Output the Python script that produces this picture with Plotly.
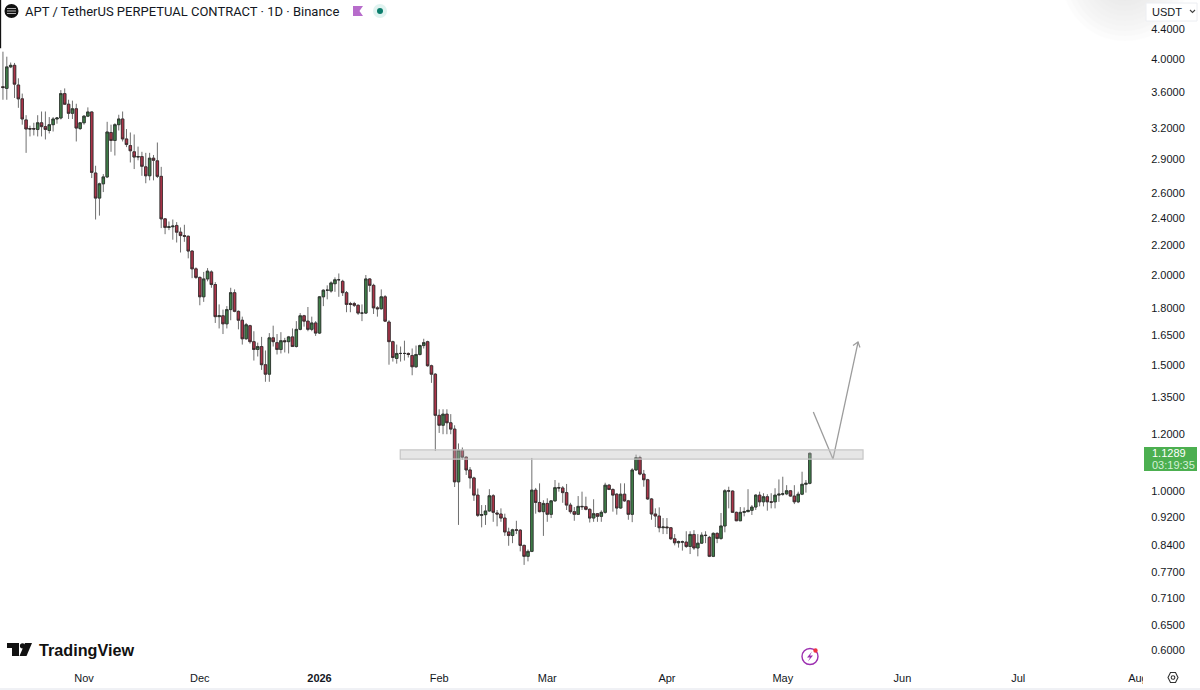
import pandas as pd
import plotly.graph_objects as go

dates = list(pd.date_range("2025-10-11", periods=210))

opens = [
    3.66, 3.64, 3.90, 3.92, 3.68, 3.52, 3.29, 3.20, 3.20, 3.19,
    3.26, 3.22, 3.18, 3.24, 3.30, 3.31, 3.58, 3.46, 3.36, 3.41,
    3.20, 3.26, 3.33, 3.375, 2.775, 2.56, 2.68, 2.74, 3.16, 3.08,
    3.24, 3.30, 3.095, 3.03, 2.97, 2.92, 2.925, 2.83, 2.75, 2.91,
    2.885, 2.745, 2.395, 2.33, 2.335, 2.345, 2.295, 2.27, 2.265, 2.16,
    2.04, 1.985, 1.865, 1.975, 2.02, 1.94, 1.75, 1.755, 1.71, 1.79,
    1.89, 1.78, 1.73, 1.63, 1.70, 1.615, 1.575, 1.59, 1.50, 1.455,
    1.635, 1.61, 1.575, 1.62, 1.615, 1.64, 1.59, 1.68, 1.755, 1.725,
    1.68, 1.715, 1.66, 1.865, 1.905, 1.90, 1.945, 1.97, 1.96, 1.89,
    1.825, 1.825, 1.815, 1.77, 1.77, 1.975, 1.935, 1.80, 1.795, 1.865,
    1.72, 1.615, 1.53, 1.555, 1.555, 1.555, 1.545, 1.49, 1.55, 1.595,
    1.615, 1.495, 1.455, 1.275, 1.235, 1.28, 1.245, 1.22, 1.03, 1.14,
    1.115, 1.07, 1.043, 0.987, 0.925, 0.927, 0.938, 0.985, 0.932, 0.929,
    0.917, 0.877, 0.867, 0.883, 0.882, 0.84, 0.811, 0.824, 1.003, 0.964,
    0.936, 0.961, 0.928, 0.969, 1.011, 1.01, 0.995, 0.956, 0.936, 0.928,
    0.952, 0.951, 0.943, 0.917, 0.93, 0.922, 0.934, 1.019, 1.005, 0.99,
    0.947, 0.99, 0.969, 0.928, 1.07, 1.113, 1.056, 1.037, 0.975, 0.929,
    0.923, 0.889, 0.891, 0.889, 0.858, 0.847, 0.85, 0.849, 0.837, 0.87,
    0.833, 0.846, 0.868, 0.862, 0.811, 0.873, 0.859, 0.894, 1.001, 1.0,
    0.934, 0.909, 0.934, 0.936, 0.94, 0.95, 0.987, 0.966, 0.982, 0.966,
    0.966, 0.987, 0.99, 0.991, 1.001, 0.984, 0.966, 0.99, 1.022, 1.025,
]
highs = [
    4.095, 4.03, 3.955, 3.95, 3.76, 3.58, 3.34, 3.23, 3.26, 3.34,
    3.38, 3.38, 3.32, 3.32, 3.32, 3.62, 3.64, 3.51, 3.50, 3.465,
    3.26, 3.34, 3.425, 3.38, 2.84, 2.69, 2.765, 3.27, 3.24, 3.255,
    3.345, 3.38, 3.195, 3.16, 3.14, 3.02, 2.97, 2.96, 2.96, 2.94,
    3.06, 2.83, 2.40, 2.375, 2.39, 2.37, 2.33, 2.35, 2.27, 2.165,
    2.05, 1.99, 2.02, 2.045, 2.03, 1.955, 1.82, 1.79, 1.81, 1.92,
    1.91, 1.785, 1.75, 1.715, 1.705, 1.67, 1.61, 1.64, 1.57, 1.66,
    1.70, 1.655, 1.665, 1.635, 1.645, 1.685, 1.725, 1.77, 1.76, 1.805,
    1.75, 1.725, 1.87, 1.91, 1.935, 1.96, 1.985, 2.01, 1.97, 1.90,
    1.835, 1.835, 1.82, 1.82, 2.00, 1.98, 1.945, 1.81, 1.91, 1.875,
    1.73, 1.62, 1.60, 1.59, 1.62, 1.56, 1.58, 1.595, 1.60, 1.63,
    1.62, 1.50, 1.46, 1.30, 1.30, 1.30, 1.28, 1.235, 1.165, 1.15,
    1.118, 1.08, 1.047, 1.008, 0.956, 0.956, 1.006, 0.99, 0.941, 0.946,
    0.93, 0.889, 0.886, 0.909, 0.885, 0.842, 0.829, 1.112, 1.01, 1.025,
    0.971, 0.977, 0.971, 1.036, 1.027, 1.016, 1.023, 0.963, 0.95, 0.984,
    0.998, 0.982, 0.946, 0.974, 0.932, 0.94, 1.027, 1.023, 1.009, 0.993,
    1.025, 1.025, 0.972, 1.076, 1.124, 1.12, 1.07, 1.04, 0.978, 0.946,
    0.949, 0.917, 0.917, 0.891, 0.871, 0.853, 0.853, 0.879, 0.879, 0.882,
    0.871, 0.876, 0.879, 0.866, 0.876, 0.876, 0.932, 1.006, 1.014, 1.002,
    0.936, 0.95, 0.949, 1.006, 0.956, 0.99, 0.998, 0.993, 0.99, 0.993,
    1.009, 1.038, 1.047, 1.019, 1.003, 1.019, 0.998, 1.064, 1.036, 1.131,
]
lows = [
    3.51, 3.51, 3.885, 3.53, 3.42, 3.24, 2.96, 3.12, 3.13, 3.12,
    3.12, 3.09, 3.15, 3.17, 3.25, 3.295, 3.455, 3.30, 3.30, 3.07,
    3.185, 3.24, 3.32, 2.73, 2.39, 2.42, 2.61, 2.73, 2.97, 2.935,
    3.18, 3.07, 3.015, 2.87, 2.81, 2.89, 2.75, 2.685, 2.71, 2.71,
    2.73, 2.325, 2.28, 2.31, 2.24, 2.22, 2.15, 2.225, 2.11, 1.98,
    1.975, 1.815, 1.835, 1.96, 1.92, 1.715, 1.685, 1.655, 1.685, 1.73,
    1.775, 1.68, 1.60, 1.625, 1.605, 1.52, 1.54, 1.475, 1.42, 1.42,
    1.59, 1.55, 1.555, 1.56, 1.555, 1.59, 1.585, 1.675, 1.695, 1.67,
    1.67, 1.645, 1.655, 1.81, 1.85, 1.89, 1.895, 1.865, 1.87, 1.775,
    1.775, 1.805, 1.76, 1.725, 1.765, 1.895, 1.765, 1.75, 1.79, 1.72,
    1.50, 1.515, 1.505, 1.515, 1.52, 1.535, 1.45, 1.485, 1.545, 1.58,
    1.49, 1.415, 1.137, 1.205, 1.20, 1.20, 1.20, 1.013, 0.897, 1.105,
    1.053, 1.008, 0.969, 0.92, 0.89, 0.897, 0.936, 0.906, 0.893, 0.906,
    0.866, 0.839, 0.846, 0.871, 0.824, 0.789, 0.798, 0.822, 0.93, 0.934,
    0.866, 0.906, 0.917, 0.966, 0.998, 0.963, 0.941, 0.93, 0.909, 0.926,
    0.941, 0.94, 0.904, 0.906, 0.906, 0.906, 0.93, 1.003, 0.936, 0.927,
    0.945, 0.966, 0.912, 0.905, 1.067, 1.052, 1.014, 0.972, 0.912, 0.891,
    0.876, 0.871, 0.871, 0.855, 0.84, 0.834, 0.826, 0.833, 0.817, 0.828,
    0.811, 0.844, 0.846, 0.809, 0.809, 0.846, 0.855, 0.876, 0.946, 0.932,
    0.908, 0.908, 0.922, 0.935, 0.926, 0.941, 0.952, 0.952, 0.939, 0.946,
    0.946, 0.966, 0.985, 0.987, 0.982, 0.959, 0.962, 0.987, 0.995, 1.022,
]
closes = [
    3.65, 3.90, 3.92, 3.69, 3.52, 3.30, 3.195, 3.195, 3.195, 3.26,
    3.22, 3.19, 3.24, 3.30, 3.31, 3.58, 3.46, 3.36, 3.41, 3.205,
    3.26, 3.33, 3.375, 2.78, 2.56, 2.68, 2.74, 3.165, 3.08, 3.24,
    3.30, 3.095, 3.04, 2.98, 2.92, 2.925, 2.835, 2.75, 2.91, 2.89,
    2.745, 2.395, 2.33, 2.335, 2.34, 2.295, 2.27, 2.265, 2.16, 2.04,
    1.985, 1.865, 1.975, 2.025, 1.94, 1.75, 1.755, 1.71, 1.79, 1.89,
    1.78, 1.73, 1.63, 1.705, 1.615, 1.575, 1.59, 1.50, 1.455, 1.635,
    1.615, 1.575, 1.62, 1.615, 1.64, 1.59, 1.68, 1.755, 1.725, 1.68,
    1.715, 1.66, 1.865, 1.905, 1.905, 1.95, 1.97, 1.97, 1.89, 1.82,
    1.82, 1.815, 1.77, 1.77, 1.975, 1.935, 1.80, 1.795, 1.865, 1.725,
    1.615, 1.535, 1.555, 1.555, 1.555, 1.55, 1.49, 1.55, 1.595, 1.61,
    1.495, 1.455, 1.275, 1.235, 1.28, 1.245, 1.22, 1.03, 1.14, 1.115,
    1.07, 1.043, 0.987, 0.925, 0.927, 0.938, 0.985, 0.934, 0.929, 0.917,
    0.877, 0.867, 0.883, 0.882, 0.84, 0.811, 0.824, 1.003, 0.964, 0.936,
    0.961, 0.928, 0.969, 1.011, 1.01, 0.995, 0.956, 0.936, 0.928, 0.952,
    0.951, 0.943, 0.917, 0.93, 0.922, 0.934, 1.019, 1.005, 0.987, 0.947,
    0.99, 0.969, 0.928, 1.07, 1.113, 1.056, 1.037, 0.975, 0.929, 0.923,
    0.889, 0.891, 0.889, 0.858, 0.847, 0.85, 0.849, 0.837, 0.87, 0.833,
    0.846, 0.868, 0.867, 0.811, 0.873, 0.859, 0.894, 1.001, 1.0, 0.934,
    0.909, 0.934, 0.936, 0.94, 0.95, 0.987, 0.966, 0.982, 0.966, 0.965,
    0.987, 0.99, 0.991, 1.001, 0.984, 0.966, 0.99, 1.022, 1.025, 1.1289,
]

# Oct 10 bar sits right on the left edge of the pane, only its lower end is on screen
edge_bar_dates = ["2025-10-10 08:00", "2025-10-10 08:00"]
edge_bar_prices = [5.3, 4.14]

price_ticks = [4.4, 4.0, 3.6, 3.2, 2.9, 2.6, 2.4, 2.2, 2.0, 1.8, 1.65, 1.5, 1.35,
               1.2, 1.0, 0.92, 0.84, 0.77, 0.71, 0.65, 0.6]
month_ticks = ["2025-11-01", "2025-12-01", "2026-01-01", "2026-02-01", "2026-03-01",
               "2026-04-01", "2026-05-01", "2026-06-01", "2026-07-01", "2026-08-01"]
month_labels = ["Nov", "Dec", "<b>2026</b>", "Feb", "Mar", "Apr", "May", "Jun", "Jul", "Aug"]

zone_dates = ["2026-01-21 22:00", "2026-05-21 19:00"]
zone_prices = [1.108, 1.141]
arrow_dates = ["2026-05-08 22:00", "2026-05-14 00:00", "2026-05-20 12:00"]
arrow_prices = [1.289, 1.108, 1.613]

UP = "#3f8049"
DOWN = "#ac3449"
WICK = "#6f6f6f"
EDGE = "#2a2a2a"
TEXT = "#131722"
PLOT_W, PLOT_H = 1141, 667
FONT = "Liberation Sans"


def px(x):
    return x / PLOT_W


def py(y):
    return 1 - y / PLOT_H


def paper_path(points, close=True):
    cmds = [f"{'M' if i == 0 else 'L'}{px(x):.5f},{py(y):.5f}" for i, (x, y) in enumerate(points)]
    return " ".join(cmds) + (" Z" if close else "")


def poly(points, fill=None, line=None, width=1, close=True):
    return dict(type="path", xref="paper", yref="paper", path=paper_path(points, close),
                fillcolor=fill or "rgba(0,0,0,0)", line=dict(color=line or "rgba(0,0,0,0)", width=width),
                layer="above")


def disc(cx, cy, r, fill=None, line=None, width=1, opacity=1):
    return dict(type="circle", xref="paper", yref="paper", x0=px(cx - r), x1=px(cx + r),
                y0=py(cy + r), y1=py(cy - r), fillcolor=fill or "rgba(0,0,0,0)",
                line=dict(color=line or "rgba(0,0,0,0)", width=width), opacity=opacity, layer="above")


def label(x, y, text, size=11, color=TEXT, anchor="left", family=FONT):
    return dict(xref="paper", yref="paper", x=px(x), y=py(y), text=text, showarrow=False,
                xanchor=anchor, yanchor="middle", font=dict(size=size, color=color, family=family))


fig = go.Figure()

# wicks first, then a second pass with just the bodies so the outline can stay darker
fig.add_trace(go.Candlestick(
    x=dates, open=opens, high=highs, low=lows, close=closes, whiskerwidth=0,
    increasing=dict(line=dict(color=WICK, width=1), fillcolor=UP),
    decreasing=dict(line=dict(color=WICK, width=1), fillcolor=DOWN),
    showlegend=False, hoverinfo="skip",
))
fig.add_trace(go.Candlestick(
    x=dates, open=opens, close=closes,
    high=[max(o, c) for o, c in zip(opens, closes)],
    low=[min(o, c) for o, c in zip(opens, closes)],
    whiskerwidth=0,
    increasing=dict(line=dict(color=EDGE, width=0.7), fillcolor=UP),
    decreasing=dict(line=dict(color=EDGE, width=0.7), fillcolor=DOWN),
    showlegend=False, hoverinfo="skip",
))

fig.add_trace(go.Scatter(x=edge_bar_dates, y=edge_bar_prices, mode="lines",
                         line=dict(color="#111111", width=1.6), showlegend=False, hoverinfo="skip"))

# drawn arrow on the chart
fig.add_trace(go.Scatter(x=arrow_dates, y=arrow_prices, mode="lines",
                         line=dict(color="#9c9c9c", width=1.3), showlegend=False, hoverinfo="skip"))

shapes = [
    dict(type="rect", xref="x", yref="y", x0=zone_dates[0], x1=zone_dates[1],
         y0=zone_prices[0], y1=zone_prices[1], fillcolor="rgba(190,190,190,0.38)",
         line=dict(color="#c6c6c6", width=1.2), layer="above"),
]

# soft grey glow top right
for r in range(8, 58, 5):
    shapes.append(disc(1125, -22, r + 10, fill="#777777", opacity=0.01))

# hides the part of the Aug label that runs under the price scale
shapes.append(dict(type="rect", xref="paper", yref="paper", x0=px(1143), x1=px(1200), y0=py(688),
                   y1=py(668), fillcolor="white", line=dict(width=0), layer="above"))
shapes.append(dict(type="line", xref="paper", yref="paper", x0=0, x1=px(1200), y0=py(689), y1=py(689),
                   line=dict(color="#e0e3eb", width=1), layer="above"))

# symbol icon, flag, market status dot
shapes.append(disc(11.5, 11, 7, fill="#111111"))
for yy in (8.5, 11, 13.5):
    shapes.append(poly([(7, yy), (16, yy)], line="#dddddd", width=0.8, close=False))
shapes.append(poly([(353, 6), (363, 6), (359.5, 11), (363, 16), (353, 16)], fill="#b76ccb"))
shapes.append(disc(380, 11, 7, fill="#e0f3f0"))
shapes.append(disc(380, 11, 3, fill="#0b7d6c"))

# TradingView mark
shapes.append(poly([(7, 643), (19, 643), (19, 656), (12, 656), (12, 648), (7, 648)], fill="#111111"))
shapes.append(disc(22.5, 645.8, 2.6, fill="#111111"))
shapes.append(poly([(25, 643), (32, 643), (26.5, 656), (19.5, 656)], fill="#111111"))

# lightning badge
shapes.append(disc(810, 656.5, 8, line="#9c2fb0", width=1.4))
shapes.append(poly([(812, 651.5), (807, 657.5), (810, 657.5), (808, 661.5), (813, 655.5), (810, 655.5)], fill="#9c2fb0"))
shapes.append(disc(815.5, 650.5, 2.2, fill="#ef3340"))

# arrow head
shapes.append(poly([(853, 345.5), (858, 342), (860, 347.5)], line="#9c9c9c", width=1.2, close=False))

# USDT button
shapes.append(dict(type="rect", xref="paper", yref="paper", x0=px(1146), x1=px(1197), y0=py(21), y1=py(3),
                   fillcolor="white", line=dict(color="#eceef2", width=1), layer="above"))
shapes.append(poly([(1190, 10), (1192.5, 12.5), (1195, 10)], line="#444444", width=1.1, close=False))

# last price tag
shapes.append(dict(type="rect", xref="paper", yref="paper", x0=px(1144), x1=px(1197), y0=py(471), y1=py(447),
                   fillcolor="#4caf50", line=dict(width=0), layer="above"))

# settings gear
shapes.append(poly([(1168, 677.5), (1170.5, 672.5), (1175.5, 672.5), (1178, 677.5), (1175.5, 682.5), (1170.5, 682.5)],
                   line="#333333", width=1.1))
shapes.append(disc(1173, 677.5, 1.8, line="#333333", width=1.1))

annotations = [
    label(23, 11, "APT / TetherUS PERPETUAL CONTRACT · 1D · Binance", size=13, family="Roboto"),
    label(37, 650, "<b>TradingView</b>", size=16.2, color="#111111"),
    label(1150, 12, "USDT", size=11),
    label(1150, 453, "1.1289", size=11, color="white"),
    label(1150, 465, "03:19:35", size=11, color="#d5efd6"),
]

fig.update_layout(
    width=1200, height=690,
    margin=dict(l=0, r=59, t=0, b=23),
    paper_bgcolor="white", plot_bgcolor="white",
    font=dict(family=FONT, size=11, color=TEXT),
    shapes=shapes, annotations=annotations, showlegend=False,
    boxmode="overlay", boxgap=0.36, boxgroupgap=0,
    xaxis=dict(
        type="date", range=["2025-10-10 05:45", "2026-08-01 19:00"], rangeslider=dict(visible=False),
        tickmode="array", tickvals=month_ticks, ticktext=month_labels, showgrid=False, zeroline=False,
        showline=False, ticks="outside", ticklen=1, tickcolor="white", tickangle=0,
        tickfont=dict(size=11, color=TEXT),
    ),
    yaxis=dict(
        type="log", range=[-0.2452, 0.6843], side="right",
        tickmode="array", tickvals=price_ticks, ticktext=[f"{p:.4f}" for p in price_ticks],
        showgrid=False, zeroline=False, showline=False, ticks="outside", ticklen=7, tickcolor="white",
        tickfont=dict(size=11, color=TEXT),
    ),
)

fig.write_html("out.html", config=dict(displayModeBar=False), post_script="document.body.style.margin='0';")
